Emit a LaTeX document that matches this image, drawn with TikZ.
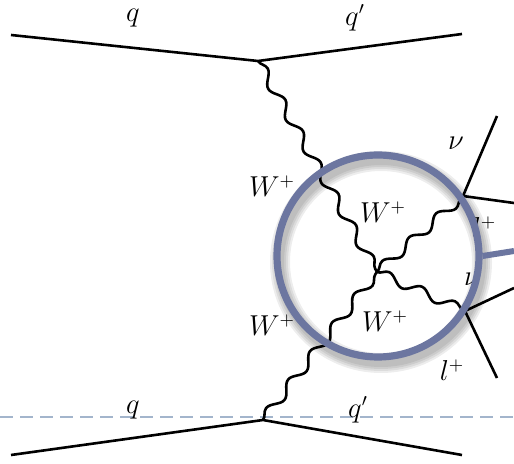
\documentclass[tikz,border=0pt]{standalone}
\usetikzlibrary{decorations.pathmorphing}
\definecolor{lensblue}{RGB}{108,118,160}
\definecolor{cutblue}{RGB}{163,181,204}
\tikzset{
  fermion/.style={line width=1.3pt},
  boson/.style={line width=1.3pt, decorate,
    decoration={snake, segment length=18pt, amplitude=2.4pt}},
  ring/.style={circle, draw=lensblue, line width=3.6pt, minimum size=101pt, inner sep=0pt},
}
\begin{document}
\begin{tikzpicture}[x=0.5pt,y=-0.5pt,font=\fontsize{13.5pt}{16pt}\selectfont]
        \useasboundingbox (0,0) rectangle (514,464);
        % Cut line
        \coordinate (cutL) at (0,417);
        \coordinate (cutR) at (514,417);
        \draw[cutblue, line width=1pt, dash pattern=on 6.5pt off 3.5pt] (cutL) -- (cutR);
        % Vertices and end points
        \coordinate (qa) at (11,35);
        \coordinate (vt) at (258,61);
        \coordinate (qb) at (462,34);
        \coordinate (qc) at (11,455);
        \coordinate (vb) at (263,420);
        \coordinate (qd) at (462,455);
        \coordinate (c) at (377,272);
        \coordinate (v1) at (463,196);
        \coordinate (v2) at (465,311);
        \coordinate (n1) at (497,116);
        \coordinate (l1) at (514,203);
        \coordinate (n2) at (514,288);
        \coordinate (l2) at (497,378);
        % Quark lines
        \draw[fermion] (qa) -- (vt) -- (qb);
        \draw[fermion] (qc) -- (vb) -- (qd);
        % W bosons
        \draw[boson] (vt) -- (c);
        \draw[boson] (vb) -- (c);
        \draw[boson] (c) -- (v1);
        \draw[boson] (c) -- (v2);
        % Leptons
        \draw[fermion] (n1) -- (v1) -- (l1);
        \draw[fermion] (n2) -- (v2) -- (l2);
        % Labels
        \node (qin) at (133,18) {$q$};
        \node (qout) at (355,18) {$q'$};
        \node (qin2) at (133,410) {$q$};
        \node (qout2) at (358,410) {$q'$};
        \node (wa) at (272,186) {$W^+$};
        \node (wb) at (383,212) {$W^+$};
        \node (wc) at (272,325) {$W^+$};
        \node (wd) at (385,321) {$W^+$};
        \node (nu1) at (456,143) {$\nu$};
        \node (lp1) at (484,227) {$l^+$};
        \node (nu2) at (472,279) {$\nu$};
        \node (lp2) at (452,370) {$l^+$};
        % Magnifier
        \coordinate (grip) at (514,251);
        \foreach \w in {10,8,6,4}
            \draw[black, opacity=0.07, line width=\w pt] (381,262) circle (101);
        \node[ring] (lens) at (378,256) {};
        \draw[lensblue, line width=3pt] (lens.east) -- (grip);
\end{tikzpicture}
\end{document}
